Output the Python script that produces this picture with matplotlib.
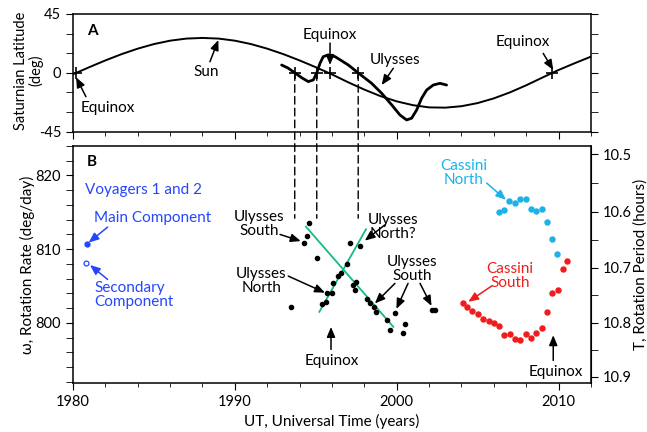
import matplotlib.pyplot as plt
from matplotlib.patches import ConnectionPatch

plt.rcParams['font.family'] = ['Lato', 'DejaVu Sans']
plt.rcParams['axes.unicode_minus'] = False

# --- panel A: latitude (deg) seen from Saturn ---
sun_years = list(range(1980, 2013))
sun_lat = [-1.1, 4.3, 9.5, 14.3, 18.5, 22.0, 24.6, 26.2, 26.7, 26.2, 24.6, 22.0,
           18.5, 14.3, 9.5, 4.3, -1.2, -7.2, -12.8, -17.8, -21.8, -24.7, -26.4,
           -26.6, -25.5, -23.1, -19.5, -14.9, -9.5, -3.6, 2.2, 7.4, 12.4]

ulysses_years = [1992.89, 1993.28, 1993.71, 1994.15, 1994.54, 1994.85, 1995.06,
                 1995.26, 1995.46, 1995.77, 1996.19, 1997.01, 1997.62, 1998.45,
                 1999.07, 1999.69, 2000.20, 2000.61, 2000.92, 2001.23, 2001.54,
                 2001.85, 2002.26, 2002.67, 2003.08]
ulysses_lat = [6.0, 3.7, 0.0, -3.9, -6.7, -5.4, 0.0, 7.3, 12.4, 13.7, 12.4, 6.0,
               0.0, -8.0, -15.6, -24.5, -32.2, -36.0, -34.7, -28.4, -19.4, -13.1,
               -9.3, -8.0, -9.3]

cross_years = [1980.2, 1993.7, 1995.06, 1995.85, 1997.62, 2009.6]
dashed_years = [1993.7, 1995.06, 1997.62]

# --- panel B: rotation rate (deg/day) ---
voyager_main_year, voyager_main_rate = [1980.85], [810.75]
voyager_sec_year, voyager_sec_rate = [1980.80], [808.16]

uly_years = [1994.60, 1994.44, 1994.27, 1995.05, 1993.45, 1997.11, 1997.73, 1996.91,
             1996.54, 1996.39, 1996.08, 1995.98, 1995.71, 1995.63, 1995.36, 1997.48,
             1997.32, 1997.42, 1998.14, 1998.35, 1998.59, 1998.72, 1999.38, 1999.58,
             1999.89, 2000.51, 2000.37, 2002.15, 2002.35]
uly_rate = [813.6, 811.8, 810.9, 808.8, 802.1, 810.8, 810.4, 808.0, 806.8, 806.4,
            805.4, 804.1, 804.0, 802.9, 802.5, 805.6, 805.1, 804.5, 803.2, 802.7,
            802.2, 801.5, 800.4, 799.1, 801.3, 799.8, 798.6, 801.8, 801.8]

fit_south_years, fit_south_rate = [1994.39, 1999.79], [813.06, 799.46]
fit_north_years, fit_north_rate = [1995.22, 1998.10], [801.5, 812.7]

# Cassini periods in hours
cas_n_years = [2006.30, 2006.64, 2006.95, 2007.31, 2007.61, 2007.97, 2008.29,
               2008.60, 2008.95, 2009.26, 2009.59, 2009.92]
cas_n_period = [10.600, 10.597, 10.581, 10.584, 10.577, 10.578, 10.596, 10.599,
                10.595, 10.619, 10.649, 10.676]
cas_s_years = [2004.11, 2004.36, 2004.67, 2005.00, 2005.35, 2005.68, 2006.01,
               2006.32, 2006.64, 2007.00, 2007.31, 2007.61, 2007.98, 2008.29,
               2008.62, 2008.95, 2009.28, 2009.61, 2009.94, 2010.27, 2010.52]
cas_s_period = [10.763, 10.771, 10.778, 10.784, 10.792, 10.797, 10.800, 10.806,
                10.823, 10.821, 10.830, 10.832, 10.821, 10.827, 10.818, 10.810,
                10.781, 10.746, 10.740, 10.702, 10.688]

BLUE = '#2446ff'
CYAN = '#1cb2e8'
RED = '#f01c1c'
GREEN = '#14b98a'


def period_to_rate(t):
    return 360.0 * 24.0 / t


def rate_to_period(w):
    return 360.0 * 24.0 / w


def arrow(ax, tail, head, color='black'):
    ax.annotate('', xy=head, xytext=tail,
                arrowprops=dict(arrowstyle='-|>,head_length=0.6,head_width=0.25',
                                color=color, lw=1.1, shrinkA=0, shrinkB=0))


def label(ax, x, y, s, color='black', **kw):
    ax.text(x, y, s, ha='center', va='center', fontsize=11, color=color,
            linespacing=1.0, **kw)


fig = plt.figure(figsize=(6.47, 4.32), dpi=100)
ax1 = fig.add_axes([0.1128, 0.6951, 0.8006, 0.2725])
ax2 = fig.add_axes([0.1128, 0.1127, 0.8006, 0.5493])

# ---- panel A ----
ax1.plot(sun_years, sun_lat, color='black', lw=1.4)
ax1.plot(ulysses_years, ulysses_lat, color='black', lw=2.0, solid_joinstyle='round',
         solid_capstyle='round')
ax1.plot(cross_years, [0] * len(cross_years), '+', color='black', ms=8, mew=1.2)
ax1.set_xlim(1980, 2012)
ax1.set_ylim(-45, 45)
ax1.set_yticks([-45, 0, 45])
ax1.set_yticks(range(-45, 46, 15), minor=True)
ax1.set_xticks(range(1980, 2013, 10))
ax1.set_xticks(range(1980, 2013, 2), minor=True)
ax1.tick_params(axis='both', which='both', direction='out', labelsize=10.5,
                right=True, labelbottom=False)
ax1.tick_params(axis='y', which='both', length=5)
ax1.tick_params(axis='x', which='major', length=5)
ax1.tick_params(axis='x', which='minor', length=3.2)
ax1.set_ylabel('Saturnian Latitude\n(deg)', fontsize=10.5, linespacing=1.0, va='center')
ax1.yaxis.set_label_coords(-0.086, 0.52)

ax1.text(1981.22, 32.2, 'A', fontsize=11, fontweight='bold', ha='center', va='center')
label(ax1, 1982.18, -27.1, 'Equinox')
arrow(ax1, (1980.80, -18.2), (1980.19, -3.4))
label(ax1, 1988.26, 0.9, 'Sun')
arrow(ax1, (1988.46, 8.5), (1988.98, 25.1))
label(ax1, 1995.88, 28.9, 'Equinox')
arrow(ax1, (1995.88, 22.8), (1995.88, 6.0))
label(ax1, 1999.89, 9.8, 'Ulysses')
arrow(ax1, (1999.79, 3.5), (1999.07, -9.3))
label(ax1, 2007.82, 23.8, 'Equinox')
arrow(ax1, (2009.05, 14.9), (2009.67, 2.2))

# ---- panel B ----
ax2.plot(fit_south_years, fit_south_rate, color=GREEN, lw=1.3)
ax2.plot(fit_north_years, fit_north_rate, color=GREEN, lw=1.3)
ax2.plot(uly_years, uly_rate, 'o', color='black', ms=3)
ax2.plot(voyager_main_year, voyager_main_rate, 'o', color=BLUE, ms=3.5)
ax2.plot(voyager_sec_year, voyager_sec_rate, 'o', mfc='white', mec=BLUE, ms=3.5, mew=0.9)
ax2.plot(cas_n_years, [period_to_rate(t) for t in cas_n_period], 'o', color=CYAN, ms=3.6)
ax2.plot(cas_s_years, [period_to_rate(t) for t in cas_s_period], 'o', color=RED, ms=3.6)

ax2.set_xlim(1980, 2012)
ax2.set_ylim(791.8, 824.0)
ax2.set_xticks(range(1980, 2013, 10))
ax2.set_xticks(range(1980, 2013, 2), minor=True)
ax2.set_yticks([800, 810, 820])
ax2.set_yticks(range(792, 825, 2), minor=True)
ax2.tick_params(axis='both', which='both', direction='out', labelsize=10.5)
ax2.tick_params(axis='y', which='both', length=5)
ax2.tick_params(axis='x', which='major', length=5)
ax2.tick_params(axis='x', which='minor', length=3.2)
ax2.set_xlabel('UT, Universal Time (years)', fontsize=11, va='center')
ax2.xaxis.set_label_coords(0.5, -0.162)
ax2.set_ylabel('ω, Rotation Rate (deg/day)', fontsize=11, va='center')
ax2.yaxis.set_label_coords(-0.087, 0.5)

sec = ax2.secondary_yaxis('right', functions=(rate_to_period, period_to_rate))
sec.set_yticks([10.5, 10.6, 10.7, 10.8, 10.9])
sec.set_yticklabels(['10.5', '10.6', '10.7', '10.8', '10.9'])
sec.set_yticks([10.55, 10.65, 10.75, 10.85], minor=True)
sec.tick_params(axis='y', which='both', direction='out', length=5, labelsize=10.5)
sec.set_ylabel('T, Rotation Period (hours)', fontsize=11, va='center')
sec.yaxis.set_label_coords(1.095, 0.5, transform=ax2.transAxes)

for sp in list(ax1.spines.values()) + list(ax2.spines.values()):
    sp.set_linewidth(1.1)

# dashed links from the Ulysses equator crossings down into panel B
for yr in dashed_years:
    con = ConnectionPatch(xyA=(yr, 0), coordsA=ax1.transData,
                          xyB=(yr, 814.2), coordsB=ax2.transData,
                          linestyle=(0, (5.5, 3)), color='black', lw=1.0)
    fig.add_artist(con)

ax2.text(1981.16, 821.8, 'B', fontsize=11, fontweight='bold', ha='center', va='center')
ax2.text(1980.74, 818.05, 'Voyagers 1 and 2', fontsize=11, color=BLUE, va='center')
ax2.text(1981.30, 814.2, 'Main Component', fontsize=11, color=BLUE, va='center')
arrow(ax2, (1982.14, 813.0), (1980.97, 810.9), BLUE)
ax2.text(1981.30, 803.77, 'Secondary\nComponent', fontsize=11, color=BLUE,
         va='center', linespacing=1.0)
arrow(ax2, (1982.14, 805.9), (1981.05, 807.85), BLUE)

label(ax2, 1991.52, 813.4, 'Ulysses\nSouth')
arrow(ax2, (1992.79, 812.0), (1994.07, 811.1))
label(ax2, 1991.62, 805.67, 'Ulysses\nNorth')
arrow(ax2, (1993.30, 806.35), (1995.57, 804.1))
label(ax2, 1999.79, 813.0, 'Ulysses\nNorth?')
arrow(ax2, (1999.27, 813.3), (1998.03, 811.16))
label(ax2, 2000.94, 807.37, 'Ulysses\nSouth')
arrow(ax2, (1999.89, 805.36), (1998.65, 802.64))
arrow(ax2, (2000.70, 805.36), (1999.98, 801.9))
arrow(ax2, (2001.44, 805.36), (2002.15, 802.3))
label(ax2, 1996.0, 794.8, 'Equinox')
arrow(ax2, (1995.94, 796.4), (1995.94, 799.45))
label(ax2, 2009.84, 793.3, 'Equinox')
arrow(ax2, (2009.67, 794.9), (2009.67, 798.33))

label(ax2, 2004.11, 820.33, 'Cassini\nNorth', color=CYAN)
arrow(ax2, (2005.56, 818.97), (2006.75, 816.7), CYAN)
label(ax2, 2007.0, 806.35, 'Cassini\nSouth', color=RED)
arrow(ax2, (2005.86, 805.0), (2004.42, 802.86), RED)

fig.savefig('out.png', dpi=100)
